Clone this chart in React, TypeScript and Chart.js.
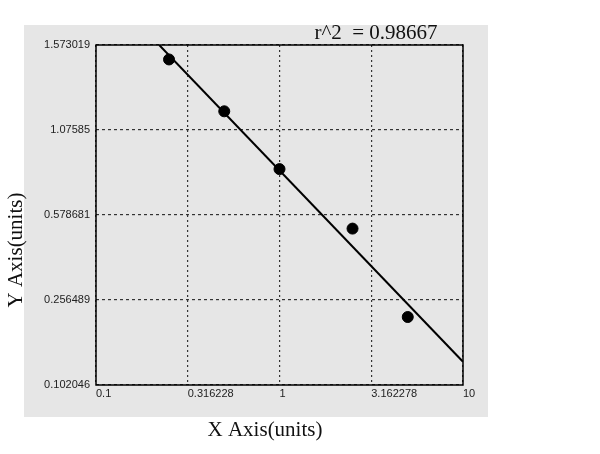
import React, { useEffect, useRef } from "react";
import { Chart, registerables } from "chart.js";

Chart.register(...registerables);

// Axis ticks
const xTickValues = [0.1, 0.316228, 1, 3.162278, 10];
const xTickLabels = ["0.1", "0.316228", "1", "3.162278", "10"];
const yTickPositions = [0, 1, 2, 3, 4];
const yTickLabels = ["0.102046", "0.256489", "0.578681", "1.07585", "1.573019"];

// Standard points (x: concentration, y: position on the y scale grid)
const concentrations = [0.25, 0.5, 1, 2.5, 5];
const responses = [3.83, 3.22, 2.54, 1.84, 0.8];

// Fitted curve end points
const fitX = [0.221, 10];
const fitY = [4, 0.274];

const rSquaredText = "r^2  = 0.98667";
const xTitle = "X Axis(units)";
const yTitle = "Y Axis(units)";

const decorPlugin = {
  id: "decor",
  beforeDraw(chart: any) {
    const ctx = chart.ctx;
    ctx.save();
    ctx.fillStyle = "#e6e6e6";
    ctx.fillRect(24, 25, 464, 392);
    ctx.restore();
  },
  afterDraw(chart: any) {
    const ctx = chart.ctx;
    const a = chart.chartArea;
    ctx.save();
    ctx.strokeStyle = "#000";
    ctx.lineWidth = 1.5;
    ctx.strokeRect(a.left, a.top, a.right - a.left, a.bottom - a.top);
    ctx.fillStyle = "#111";
    ctx.font = '21px "Liberation Serif", "Times New Roman", serif';
    ctx.textAlign = "center";
    ctx.textBaseline = "middle";
    ctx.fillText(rSquaredText, 376, 33);
    ctx.fillText(xTitle, 265, 430);
    ctx.translate(16, 250);
    ctx.rotate(-Math.PI / 2);
    ctx.fillText(yTitle, 0, 0);
    ctx.restore();
  },
};

export default function App() {
  const ref = useRef<HTMLCanvasElement>(null);
  useEffect(() => {
    if (!ref.current) return;
    const points = concentrations.map((x, i) => ({ x, y: responses[i] }));
    const fit = fitX.map((x, i) => ({ x, y: fitY[i] }));
    const tickFont = { family: '"Liberation Sans", Arial, sans-serif', size: 11 };
    const chart = new Chart(ref.current, {
      type: "scatter",
      data: {
        datasets: [
          {
            data: fit,
            showLine: true,
            borderColor: "#000",
            borderWidth: 2,
            pointRadius: 0,
            fill: false,
          },
          {
            data: points,
            backgroundColor: "#000",
            borderColor: "#000",
            pointRadius: 5.5,
            showLine: false,
          },
        ],
      },
      options: {
        animation: false,
        responsive: false,
        layout: { padding: { left: 0, top: 45, right: 137, bottom: 0 } },
        plugins: { legend: { display: false }, tooltip: { enabled: false } },
        scales: {
          x: {
            type: "logarithmic",
            min: 0.1,
            max: 10,
            afterBuildTicks: (s: any) => {
              s.ticks = xTickValues.map((v) => ({ value: v }));
            },
            afterFit: (s: any) => {
              s.height = 69;
            },
            ticks: {
              autoSkip: false,
              maxRotation: 0,
              align: "start",
              padding: 2,
              color: "#222",
              font: tickFont,
              callback: (v: any) => {
                const i = xTickValues.findIndex((t) => Math.abs(t - v) < 1e-6);
                return i >= 0 ? xTickLabels[i] : "";
              },
            },
            grid: { color: "#333", lineWidth: 1.2, drawTicks: false },
            border: { display: false, dash: [2, 3] },
          },
          y: {
            type: "linear",
            min: 0,
            max: 4,
            afterBuildTicks: (s: any) => {
              s.ticks = yTickPositions.map((v) => ({ value: v }));
            },
            afterFit: (s: any) => {
              s.width = 96;
            },
            ticks: {
              autoSkip: false,
              padding: 6,
              color: "#222",
              font: tickFont,
              callback: (v: any) => yTickLabels[yTickPositions.indexOf(v)] ?? "",
            },
            grid: { color: "#333", lineWidth: 1.2, drawTicks: false },
            border: { display: false, dash: [3, 3] },
          },
        },
      },
      plugins: [decorPlugin],
    });
    return () => chart.destroy();
  }, []);
  return (
    <div style={{ position: "fixed", left: 0, top: 0, width: 600, height: 454, background: "#fff" }}>
      <canvas ref={ref} width={600} height={454} />
    </div>
  );
}
